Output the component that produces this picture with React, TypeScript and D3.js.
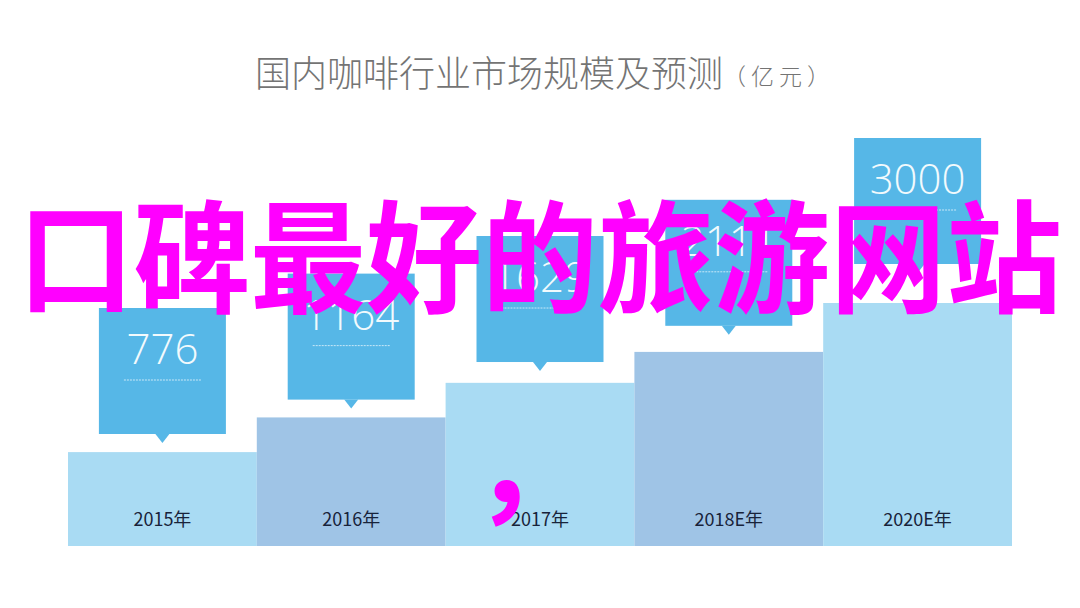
import React from "react";
import * as d3 from "d3";

const categories = ["2015年", "2016年", "2017年", "2018E年", "2020E年"];
const values = [776, 1164, 1629, 2111, 3000];
const valueLabels = ["776", "1164", "1629", "2111", "3000"];
const titleMain = "国内咖啡行业市场规模及预测";
const titleUnit = "（亿元）";
const overlayText = "口碑最好的旅游网站";
const overlayComma = "，";

const W = 1080;
const H = 608;
const baseline = 546;
const barLight = "#a9dbf3";
const barDark = "#9fc4e6";
const boxColor = "#56b7e7";
const boxW = 127;
const boxH = 126;
const cjk = "'Noto Sans CJK SC', 'Noto Sans', sans-serif";

export default function App() {
  const x = d3.scaleBand<string>().domain(categories).range([68, 1012]).padding(0);
  // bar height scale (infographic, non-linear steps)
  const hScale = d3.scaleSqrt().domain([119, 3000]).range([0, 243]);
  // callout top position scale
  const boxTop = d3.scalePow().exponent(0.75).domain([776, 3000]).range([308, 138]);

  return (
    <svg
      width={W}
      height={H}
      viewBox={`0 0 ${W} ${H}`}
      style={{ position: "absolute", left: 0, top: 0, background: "#ffffff" }}
    >
      <rect x={0} y={0} width={W} height={H} fill="#ffffff" />
      {/* Title */}
      <text x={255} y={87} fontFamily={cjk} fontSize={36} fill="#747474" fontWeight={300}>
        <tspan>{titleMain}</tspan>
        <tspan fontSize={23} dx={0} dy={-2} letterSpacing={5}>{titleUnit}</tspan>
      </text>

      {/* Bars */}
      {categories.map((c, i) => {
        const bx = x(c) as number;
        const h = hScale(values[i]);
        return (
          <g key={c}>
            <rect
              x={bx}
              y={baseline - h}
              width={x.bandwidth()}
              height={h}
              fill={i % 2 === 0 ? barLight : barDark}
            />
            <text
              x={bx + x.bandwidth() / 2}
              y={526}
              textAnchor="middle"
              fontFamily={cjk}
              fontSize={18}
              fill="#18233a"
            >
              {c}
            </text>
          </g>
        );
      })}

      {/* Callouts */}
      {categories.map((c, i) => {
        const cx = (x(c) as number) + x.bandwidth() / 2;
        const top = boxTop(values[i]);
        const left = cx - boxW / 2;
        return (
          <g key={"box" + c}>
            <rect x={left} y={top} width={boxW} height={boxH} fill={boxColor} />
            <path
              d={`M${cx - 7},${top + boxH} L${cx + 7},${top + boxH} L${cx},${top + boxH + 9} Z`}
              fill={boxColor}
            />
            <text
              x={cx}
              y={top + 56}
              textAnchor="middle"
              fontFamily="'Open Sans', 'Lato', sans-serif"
              fontWeight={300}
              fontSize={42}
              fill="#f2fafd"
            >
              {valueLabels[i]}
            </text>
            <line
              x1={left + 25}
              x2={left + boxW - 25}
              y1={top + 72}
              y2={top + 72}
              stroke="#e6f5fc"
              strokeWidth={1}
              strokeDasharray="2,1"
              opacity={0.8}
            />
          </g>
        );
      })}

      {/* Overlay text */}
      <text
        x={18}
        y={303}
        fontFamily={cjk}
        fontWeight={700}
        fontSize={122}
        fill="#ff00ff"
        textLength={1044}
        lengthAdjust="spacingAndGlyphs"
      >
        {overlayText}
      </text>
      <text x={472} y={509} fontFamily={cjk} fontWeight={700} fontSize={122} fill="#ff00ff">
        {overlayComma}
      </text>
    </svg>
  );
}
